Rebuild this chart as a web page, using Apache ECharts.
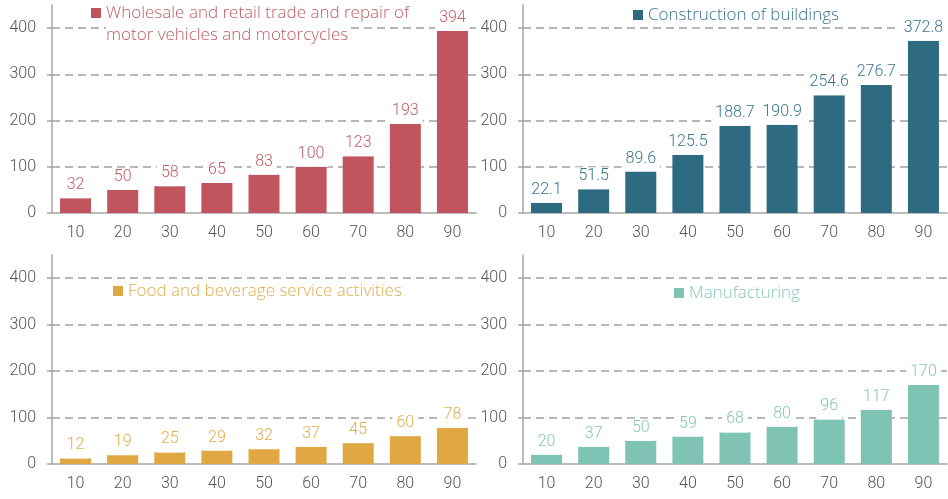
<!DOCTYPE html>
<html>
<head>
<meta charset="utf-8">
<script src="https://cdn.jsdelivr.net/npm/echarts@6/dist/echarts.min.js"></script>
<style>
  html, body { margin: 0; padding: 0; background: #fff; }
  #chart { width: 948px; height: 499px; }
</style>
</head>
<body>
<div id="chart"></div>
<script>
// Categories shared by every panel
const categories = ['10', '20', '30', '40', '50', '60', '70', '80', '90'];

// Series values, one array per sector
const wholesaleValues = [32, 50, 58, 65, 83, 100, 123, 193, 394];
const constructionValues = [22.1, 51.5, 89.6, 125.5, 188.7, 190.9, 254.6, 276.7, 372.8];
const foodValues = [12, 19, 25, 29, 32, 37, 45, 60, 78];
const manufacturingValues = [20, 37, 50, 59, 68, 80, 96, 117, 170];

// Value-axis tick labels
const yTicks = [0, 100, 200, 300, 400];

// Panel names
const wholesaleName = ['Wholesale and retail trade and repair of', 'motor vehicles and motorcycles'];
const constructionName = ['Construction of buildings'];
const foodName = ['Food and beverage service activities'];
const manufacturingName = ['Manufacturing'];

const FONT = 'Roboto';
const KEY_FONT = 'Open Sans';
const WEIGHT = 300;
const AXIS_GREY = '#a6a6a6';
const LABEL_GREY = '#555555';

const panels = [
  { name: wholesaleName, data: wholesaleValues, color: '#c0555d', text: '#c25d65',
    grid: { left: 52, right: 472, top: 5, bottom: 286 }, title: { left: 91, top: 2 } },
  { name: constructionName, data: constructionValues, color: '#2e6b82', text: '#3b7690',
    grid: { left: 523, right: 1, top: 5, bottom: 286 }, title: { left: 633, top: 4 } },
  { name: foodName, data: foodValues, color: '#e0a843', text: '#e2ad4e',
    grid: { left: 52, right: 472, top: 255, bottom: 35 }, title: { left: 113, top: 280 } },
  { name: manufacturingName, data: manufacturingValues, color: '#7fc3b4', text: '#85c6b8',
    grid: { left: 523, right: 1, top: 255, bottom: 35 }, title: { left: 674, top: 282 } }
];

const grid = [], xAxis = [], yAxis = [], series = [], title = [];

panels.forEach((p, i) => {
  grid.push(Object.assign({ containLabel: false }, p.grid));

  xAxis.push({
    type: 'category',
    gridIndex: i,
    data: categories,
    axisLine: { show: true, lineStyle: { color: AXIS_GREY, width: 1.5 } },
    axisTick: { show: false },
    axisLabel: { color: LABEL_GREY, fontFamily: FONT, fontWeight: WEIGHT, fontSize: 16, margin: 12 }
  });

  yAxis.push({
    type: 'value',
    gridIndex: i,
    min: 0,
    max: 450,
    interval: 100,
    axisLine: { show: true, lineStyle: { color: AXIS_GREY, width: 1.5 } },
    axisTick: { show: true, length: 5, customValues: yTicks, lineStyle: { color: AXIS_GREY, width: 1.5 } },
    axisLabel: { color: LABEL_GREY, fontFamily: FONT, fontWeight: WEIGHT, fontSize: 16, margin: 16, customValues: yTicks },
    splitLine: { show: true, showMinLine: false,
                 lineStyle: { color: '#a0a0a0', width: 1.5, type: [8, 5] } }
  });

  series.push({
    type: 'bar',
    name: p.name.join(' '),
    xAxisIndex: i,
    yAxisIndex: i,
    data: p.data,
    barWidth: 31,
    itemStyle: { color: p.color },
    label: {
      show: true,
      position: 'top',
      distance: 0,
      padding: [1, 4, 5, 4],
      backgroundColor: '#ffffff',
      color: p.text,
      fontFamily: FONT,
      fontWeight: WEIGHT,
      fontSize: 16,
      formatter: (d) => String(d.value)
    }
  });

  // Panel key: coloured square followed by the sector name
  const lines = p.name.map((line, k) => (k === 0 ? '{sq|}{gap|}{t|' + line + '}' : '{ind|}{t|' + line + '}'));
  title.push({
    left: p.title.left,
    top: p.title.top,
    padding: 0,
    z: 10,
    text: lines.join('\n'),
    textStyle: {
      fontWeight: 'normal',
      rich: {
        sq: { width: 10, height: 10, backgroundColor: p.color },
        gap: { width: 5 },
        ind: { width: 15 },
        t: { color: p.text, fontFamily: KEY_FONT, fontSize: 17, fontWeight: WEIGHT, lineHeight: 22,
             backgroundColor: '#ffffff' }
      }
    }
  });
});

const chart = echarts.init(document.getElementById('chart'), null, { renderer: 'canvas' });
chart.setOption({
  animation: false,
  backgroundColor: '#ffffff',
  title: title,
  grid: grid,
  xAxis: xAxis,
  yAxis: yAxis,
  series: series
});
</script>
</body>
</html>
